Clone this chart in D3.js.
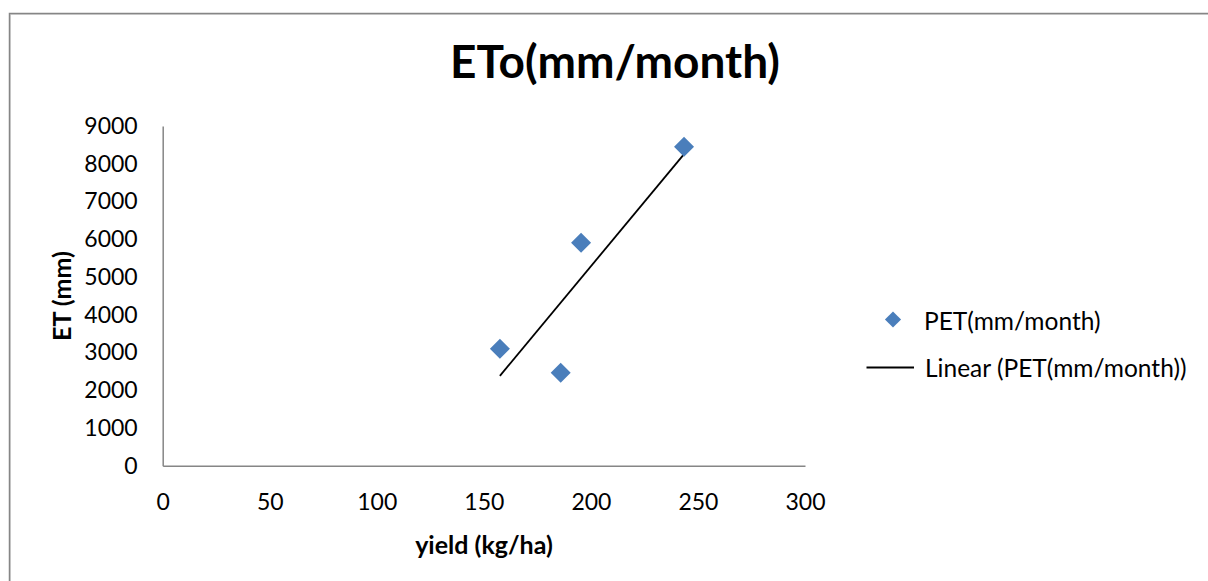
<!DOCTYPE html>
<html>
<head>
<meta charset="utf-8">
<script src="https://cdn.jsdelivr.net/npm/d3@7/dist/d3.min.js"></script>
<style>
  body { margin: 0; background: #fff; }
  text { font-family: Lato, "Open Sans", sans-serif; fill: #000; }
</style>
</head>
<body>
<svg width="1208" height="581"></svg>
<script>
var yieldVals = [157.5, 185.9, 195.4, 243.5];
var petVals = [3100, 2464, 5909, 8453];
var xTicks = [0, 50, 100, 150, 200, 250, 300];
var yTicks = [0, 1000, 2000, 3000, 4000, 5000, 6000, 7000, 8000, 9000];
var seriesName = 'PET(mm/month)';
var trendName = 'Linear (PET(mm/month))';

var svg = d3.select('svg');

// chart frame
svg.append('rect')
  .attr('x', 10.5).attr('y', 14.5)
  .attr('width', 1300).attr('height', 700)
  .attr('fill', 'none').attr('stroke', '#d9d9d9').attr('stroke-width', 1);
svg.append('rect')
  .attr('x', 9.5).attr('y', 13.5)
  .attr('width', 1300).attr('height', 700)
  .attr('fill', 'none').attr('stroke', '#868686').attr('stroke-width', 1.5);

var x = d3.scaleLinear().domain([0, 300]).range([162.7, 805]);
var y = d3.scaleLinear().domain([0, 9000]).range([465.7, 126]);

// axes
var xAxis = svg.append('g')
  .attr('transform', 'translate(0,' + y(0) + ')')
  .call(d3.axisBottom(x).tickValues(xTicks).tickFormat(d3.format('d')).tickSize(0).tickPadding(28));
var yAxis = svg.append('g')
  .attr('transform', 'translate(' + x(0) + ',0)')
  .call(d3.axisLeft(y).tickValues(yTicks).tickFormat(d3.format('d')).tickSize(0).tickPadding(25));

[xAxis, yAxis].forEach(function(g) {
  g.select('.domain').attr('stroke', '#868686').attr('stroke-width', 1.5);
  g.selectAll('text').style('font-family', 'Lato, sans-serif').style('font-size', '23px').attr('fill', '#000');
});

// titles
svg.append('text')
  .attr('x', 615).attr('y', 78)
  .attr('text-anchor', 'middle')
  .style('font-size', '46px').style('font-weight', 'bold')
  .text('ETo(mm/month)');

svg.append('text')
  .attr('x', 484).attr('y', 554)
  .attr('text-anchor', 'middle')
  .style('font-size', '25px').style('font-weight', 'bold')
  .text('yield (kg/ha)');

svg.append('text')
  .attr('transform', 'translate(71,296) rotate(-90)')
  .attr('text-anchor', 'middle')
  .style('font-size', '25px').style('font-weight', 'bold')
  .text('ET (mm)');

// linear trend line (least squares)
var mx = d3.mean(yieldVals), my = d3.mean(petVals);
var sxy = d3.sum(yieldVals, function(v, i) { return (v - mx) * (petVals[i] - my); });
var sxx = d3.sum(yieldVals, function(v) { return (v - mx) * (v - mx); });
var slope = sxy / sxx;
var icpt = my - slope * mx;
var x0 = d3.min(yieldVals), x1 = d3.max(yieldVals);

svg.append('line')
  .attr('x1', x(x0)).attr('y1', y(icpt + slope * x0))
  .attr('x2', x(x1)).attr('y2', y(icpt + slope * x1))
  .attr('stroke', '#000').attr('stroke-width', 1.8);

// points
var diamond = d3.symbol().type(d3.symbolSquare).size(200);
svg.selectAll('path.pt')
  .data(yieldVals)
  .enter()
  .append('path')
  .attr('class', 'pt')
  .attr('d', diamond)
  .attr('transform', function(d, i) { return 'translate(' + x(d) + ',' + y(petVals[i]) + ') rotate(45)'; })
  .attr('fill', '#4a7ebb');

// legend
svg.append('path')
  .attr('d', d3.symbol().type(d3.symbolSquare).size(130))
  .attr('transform', 'translate(893,319.5) rotate(45)')
  .attr('fill', '#4a7ebb');
svg.append('text')
  .attr('x', 924).attr('y', 321.5).attr('dy', '0.35em')
  .style('font-size', '24.5px')
  .text(seriesName);
svg.append('line')
  .attr('x1', 866.5).attr('x2', 914)
  .attr('y1', 367.5).attr('y2', 367.5)
  .attr('stroke', '#000').attr('stroke-width', 1.8);
svg.append('text')
  .attr('x', 925).attr('y', 368).attr('dy', '0.35em')
  .style('font-size', '24.5px')
  .text(trendName);
</script>
</body>
</html>
